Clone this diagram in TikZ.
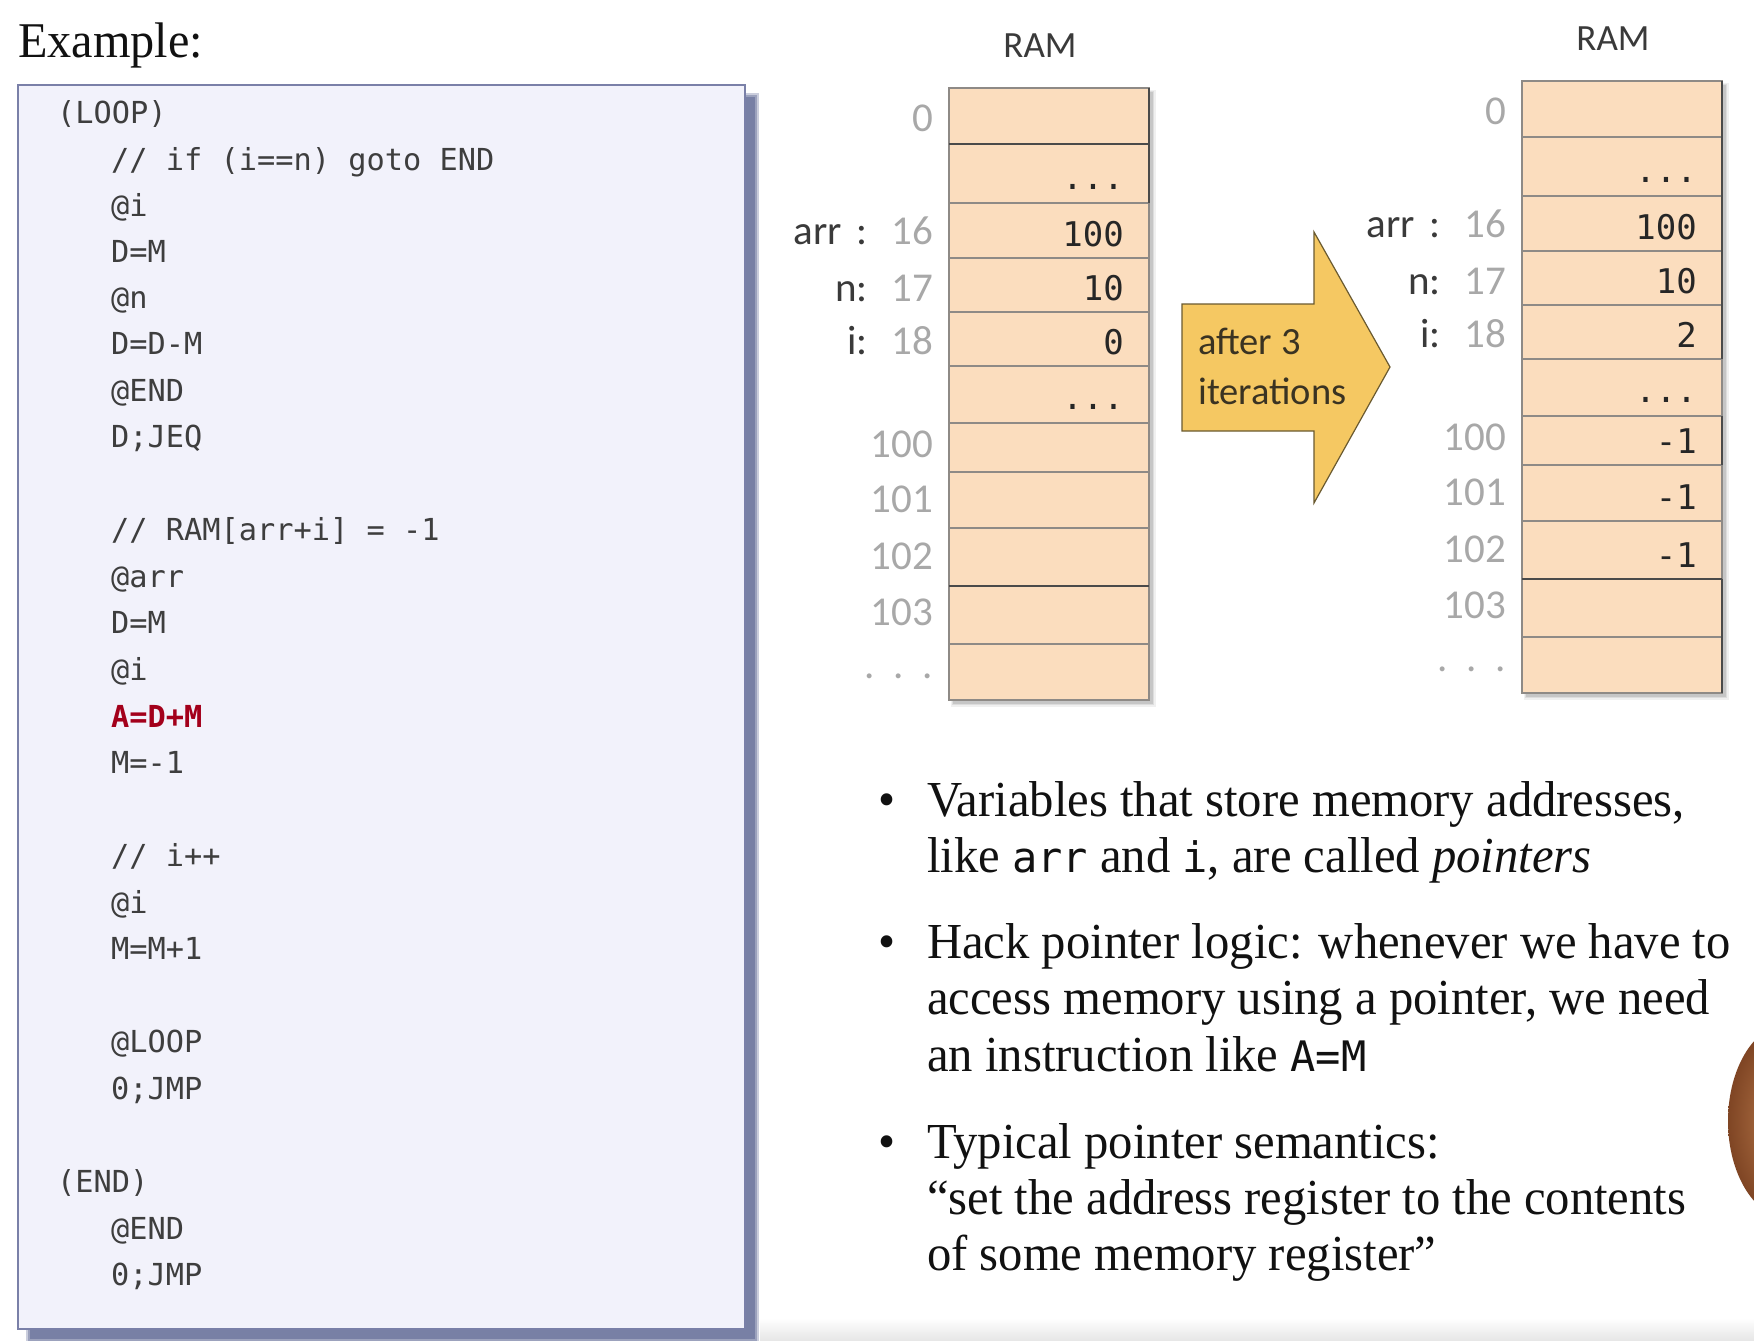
\documentclass[tikz,border=0pt]{standalone}
\usepackage{fontspec}
\setmainfont[FakeStretch=0.965]{Liberation Serif}
\newfontfamily\calib{Carlito}
\newfontfamily\dmono{DejaVu Sans Mono}
\usetikzlibrary{calc}

\definecolor{boxfill}{HTML}{F2F2FB}
\definecolor{boxline}{HTML}{7A80A8}
\definecolor{boxshade}{HTML}{56608F}
\definecolor{cellfill}{HTML}{FBDDBE}
\definecolor{cellline}{HTML}{8E8A86}
\definecolor{celldark}{HTML}{4A4A4A}
\definecolor{codec}{HTML}{3E3E3E}
\definecolor{codered}{HTML}{A3001B}
\definecolor{addrc}{HTML}{A8A8A8}
\definecolor{namec}{HTML}{3A3A3A}
\definecolor{arrowfill}{HTML}{F5C862}
\definecolor{arrowline}{HTML}{6A5A30}
\definecolor{arrowtext}{HTML}{3A3322}
\definecolor{textc}{HTML}{111111}
\definecolor{headin}{HTML}{C08050}
\definecolor{headout}{HTML}{7F4524}

\newcommand\cdfont{\dmono\fontsize{30.3}{36}\selectfont}
\newcommand\valfont{\dmono\fontsize{34}{40}\selectfont}
\newcommand\adfont{\calib\fontsize{41}{48}\selectfont}
\newcommand\ramfont{\calib\fontsize{37}{44}\selectfont}
\newcommand\arfont{\calib\fontsize{38.5}{46}\selectfont}
\newcommand\bfont{\fontsize{50.4}{58}\selectfont}
\newcommand\inlmono{\dmono\fontsize{42}{48}\selectfont}

% memory column: cells, separators and soft shadow
\newcommand\ramgrid{%
  \fill[black,opacity=0.06] (951,90) rectangle (1156,707);
  \fill[black,opacity=0.08] (952,91) rectangle (1154,705);
  \fill[black,opacity=0.10] (953,92) rectangle (1153,704);
  \fill[cellfill] (949,88) rectangle (1149,700);
  \foreach \ry in {144,203,258,312,366,423,472,528,586,644}
    {\draw[cellline,line width=1.4] (949,\ry) -- (1149,\ry);}
  \draw[cellline,line width=1.6] (949,88) rectangle (1149,700);
  \draw[celldark,line width=1.8] (949,586) -- (1149,586);
}

\tikzset{
  codeln/.style={font=\cdfont, text=codec, anchor=base west, inner sep=0pt},
  val/.style={font=\valfont, text=black!85, anchor=base east, inner sep=0pt},
  addr/.style={font=\adfont, text=addrc, anchor=base east, inner sep=0pt},
  vname/.style={font=\adfont, text=namec, anchor=base east, inner sep=0pt},
  ramtitle/.style={font=\ramfont, text=namec, anchor=base, inner sep=0pt},
  arrtxt/.style={font=\arfont, text=arrowtext, anchor=base west, inner sep=0pt},
  bline/.style={font=\bfont, text=textc, anchor=base west, inner sep=0pt},
  bdot/.style={font=\bfont, text=textc, anchor=base, inner sep=0pt},
}

\begin{document}
\begin{tikzpicture}[x=1pt,y=-1pt]
\useasboundingbox (0,0) rectangle (1754,1341);
\fill[white] (0,0) rectangle (1754,1341);
\shade[top color=white, bottom color=black!10] (760,1318) rectangle (1754,1341);

% title
\node[font=\fontsize{50}{58}\selectfont, text=textc, anchor=base west, inner sep=0pt] (title) at (18,57) {Example:};

% code panel with its shadow
\fill[boxshade,opacity=0.3] (26,93) rectangle (759,1343);
\fill[boxshade,opacity=0.4] (28,95) rectangle (757,1341);
\fill[boxshade,opacity=0.5] (30,97) rectangle (755,1339);
\node[draw=boxline, fill=boxfill, line width=1.5, inner sep=0pt, anchor=north west,
      minimum width=727pt, minimum height=1244pt] (codebox) at (17,84) {};

\node[codeln] (c0)  at (57,123)    {(LOOP)};
\node[codeln] (c1)  at (111,170)   {// if (i==n) goto END};
\node[codeln] (c2)  at (111,216)   {@i};
\node[codeln] (c3)  at (111,262)   {D=M};
\node[codeln] (c4)  at (111,308.2) {@n};
\node[codeln] (c5)  at (111,354.7) {D=D-M};
\node[codeln] (c6)  at (111,401.2) {@END};
\node[codeln] (c7)  at (111,447.8) {D;JEQ};
\node[codeln] (c9)  at (111,540.9) {// RAM[arr+i] = -1};
\node[codeln] (c10) at (111,587.4) {@arr};
\node[codeln] (c11) at (111,633.9) {D=M};
\node[codeln] (c12) at (111,680.5) {@i};
\node[codeln, text=codered, font=\cdfont\bfseries] (c13) at (111,727.0) {A=D+M};
\node[codeln] (c14) at (111,773.6) {M=-1};
\node[codeln] (c16) at (111,866.6) {// i++};
\node[codeln] (c17) at (111,913.2) {@i};
\node[codeln] (c18) at (111,959.7) {M=M+1};
\node[codeln] (c20) at (111,1052.8) {@LOOP};
\node[codeln] (c21) at (111,1099.3) {0;JMP};
\node[codeln] (c23) at (57,1192.4) {(END)};
\node[codeln] (c24) at (111,1239.0) {@END};
\node[codeln] (c25) at (111,1285.5) {0;JMP};

% RAM before the loop
\ramgrid
\draw[celldark,line width=2.4] (1149,88) -- (1149,203);
\draw[celldark,line width=1.8] (949,144) -- (1149,144);
\node[ramtitle] (ramA) at (1040,57) {RAM};
\node[addr] (aA0)   at (933,131) {0};
\node[addr] (aA16)  at (933,244) {16};
\node[addr] (aA17)  at (933,301) {17};
\node[addr] (aA18)  at (933,354) {18};
\node[addr] (aA100) at (933,457) {100};
\node[addr] (aA101) at (933,512) {101};
\node[addr] (aA102) at (933,569) {102};
\node[addr] (aA103) at (933,625) {103};
\node[addr] (aAdots) at (933,678) {.\ \ .\ \ .};
\node[vname] (nAarr) at (868,244) {arr\hspace{15pt}:};
\node[vname] (nAn)   at (868,301) {n:};
\node[vname] (nAi)   at (868,354) {i:};
\node[val] (vA1) at (1124,189) {...};
\node[val] (vA2) at (1124,246) {100};
\node[val] (vA3) at (1124,300) {10};
\node[val] (vA4) at (1124,354) {0};
\node[val] (vA5) at (1124,409) {...};

% block arrow
\draw[arrowline, fill=arrowfill, line width=1.2, line join=miter]
  (1182,304) -- (1314,304) -- (1314,232) -- (1390,367) -- (1314,503) -- (1314,431) -- (1182,431) -- cycle;
\node[arrtxt] (it1) at (1198,354) {after 3};
\node[arrtxt] (it2) at (1198,404) {iterations};

% RAM after three iterations
\begin{scope}[shift={(573,-7)}]
\ramgrid
\draw[celldark,line width=2.4] (1149,88) -- (1149,366);
\draw[celldark,line width=2.4] (1149,423) -- (1149,472);
\draw[celldark,line width=2.4] (1149,586) -- (1149,700);
\node[ramtitle] (ramB) at (1040,57) {RAM};
\node[addr] (aB0)   at (933,131) {0};
\node[addr] (aB16)  at (933,244) {16};
\node[addr] (aB17)  at (933,301) {17};
\node[addr] (aB18)  at (933,354) {18};
\node[addr] (aB100) at (933,457) {100};
\node[addr] (aB101) at (933,512) {101};
\node[addr] (aB102) at (933,569) {102};
\node[addr] (aB103) at (933,625) {103};
\node[addr] (aBdots) at (933,678) {.\ \ .\ \ .};
\node[vname] (nBarr) at (868,244) {arr\hspace{15pt}:};
\node[vname] (nBn)   at (868,301) {n:};
\node[vname] (nBi)   at (868,354) {i:};
\node[val] (vB1) at (1124,189) {...};
\node[val] (vB2) at (1124,246) {100};
\node[val] (vB3) at (1124,300) {10};
\node[val] (vB4) at (1124,354) {2};
\node[val] (vB5) at (1124,409) {...};
\node[val] (vB6) at (1124,460) {-1};
\node[val] (vB7) at (1124,516) {-1};
\node[val] (vB8) at (1124,574) {-1};
\end{scope}

% bullet points
\node[bdot] (b1) at (887,816) {•};
\node[bline] (t1) at (927,816) {Variables that store memory addresses,};
\node[bline] (t2) at (927,872) {like {\inlmono arr} and {\inlmono i}, are called \textit{pointers}};
\node[bdot] (b2) at (887,958) {•};
\node[bline] (t3) at (927,958) {Hack pointer logic: whenever we have to};
\node[bline] (t4) at (927,1014) {access memory using a pointer, we need};
\node[bline] (t5) at (927,1071) {an instruction like {\inlmono A=M}};
\node[bdot] (b3) at (887,1158) {•};
\node[bline] (t6) at (927,1158) {Typical pointer semantics:};
\node[bline] (t7) at (927,1214) {“set the address register to the contents};
\node[bline] (t8) at (927,1270) {of some memory register”};

% presenter's head at the right edge
\begin{scope}
\clip (0,0) rectangle (1754,1341);
\shade[inner color=headin, outer color=headout] (1790,1121) ellipse [x radius=62, y radius=98];
\end{scope}
\end{tikzpicture}
\end{document}
